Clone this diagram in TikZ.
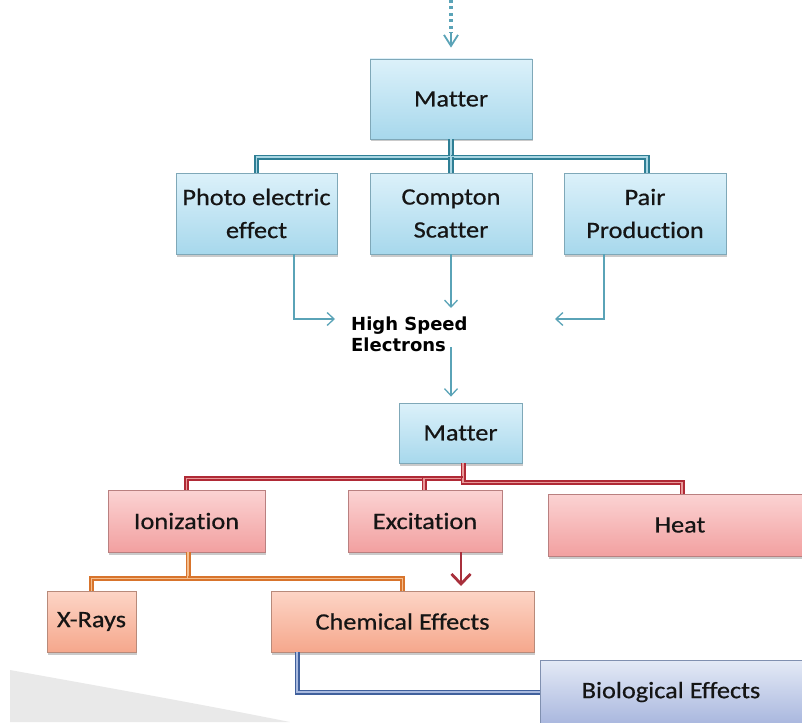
\documentclass[tikz,border=0pt]{standalone}
\usepackage{fontspec}
\newfontfamily\boxfont[FakeStretch=1.12,FakeBold=0.6,RawFeature={-liga}]{Carlito}
\newfontfamily\hsfont{DejaVu Sans}
\usetikzlibrary{arrows.meta,shadows,calc}
\definecolor{tealout}{HTML}{2F7F95}
\definecolor{tealin}{HTML}{A9D6E3}
\definecolor{tealarr}{HTML}{5AA3B7}
\definecolor{redout}{HTML}{B02A36}
\definecolor{redin}{HTML}{E89A9A}
\definecolor{redarr}{HTML}{A8303C}
\definecolor{orout}{HTML}{D8742C}
\definecolor{orin}{HTML}{F4BE8E}
\definecolor{blout}{HTML}{40609C}
\definecolor{blin}{HTML}{A9BADF}
\definecolor{txt}{HTML}{151515}
\definecolor{graybg}{HTML}{E9E9E9}
\definecolor{bluetop}{HTML}{DCF1FA}
\definecolor{bluebot}{HTML}{A7D8EC}
\definecolor{pinktop}{HTML}{FBD3D3}
\definecolor{pinkbot}{HTML}{F2A0A0}
\definecolor{saltop}{HTML}{FDD5C6}
\definecolor{salbot}{HTML}{F5A78C}
\definecolor{lavtop}{HTML}{E4EAF6}
\definecolor{lavbot}{HTML}{A9B7DE}
\definecolor{bluedraw}{HTML}{7FA8B8}
\definecolor{pinkdraw}{HTML}{B98080}
\definecolor{saldraw}{HTML}{B88A7A}
\definecolor{lavdraw}{HTML}{8090B0}
\tikzset{
  basebox/.style={draw, line width=0.8pt, inner sep=0pt, align=center, text=txt,
    font=\boxfont\fontsize{23.5}{33}\selectfont,
    drop shadow={shadow xshift=1pt, shadow yshift=-2.5pt, opacity=.35, fill=black!60}},
  bluebox/.style={basebox, draw=bluedraw, top color=bluetop, bottom color=bluebot},
  pinkbox/.style={basebox, draw=pinkdraw, top color=pinktop, bottom color=pinkbot},
  salbox/.style={basebox, draw=saldraw, top color=saltop, bottom color=salbot},
  lavbox/.style={basebox, draw=lavdraw, top color=lavtop, bottom color=lavbot},
  tealdbl/.style={draw=tealout, double=tealin, line width=1.7pt, double distance=1.8pt},
  reddbl/.style={draw=redout, double=redin, line width=1.7pt, double distance=1.6pt},
  ordbl/.style={draw=orout, double=orin, line width=1.7pt, double distance=1.6pt},
  bldbl/.style={draw=blout, double=blin, line width=1.7pt, double distance=1.6pt},
  tarr/.style={draw=tealarr, line width=1.3pt, -{Straight Barb[length=7pt,width=13pt]}},
  rarr/.style={draw=redarr, line width=2.8pt, -{Straight Barb[length=10pt,width=19pt]}},
  dotline/.style={draw=tealarr, line width=3.2pt, dash pattern=on 3pt off 3.5pt},
  chevron/.style={draw=tealarr, line width=1.8pt, -{Straight Barb[length=11pt,width=14pt]}},
}
\begin{document}
\begin{tikzpicture}[x=1pt,y=-1pt]
\useasboundingbox (0,0) rectangle (802,722);
\fill[graybg] (10,670) .. controls (110,688) and (200,704) .. (290,722) -- (10,722) -- cycle;

% nodes
\node[bluebox, minimum width=162pt, minimum height=80pt] (m1) at (451,99) {Matter};
\node[bluebox, minimum width=161pt, minimum height=81pt] (pe) at (256.5,213.5) {Photo electric\\effect};
\node[bluebox, minimum width=162pt, minimum height=81pt] (cs) at (451,213.5) {Compton\\Scatter};
\node[bluebox, minimum width=162pt, minimum height=81pt] (pp) at (645,213.5) {Pair\\Production};
\node[anchor=north west, inner sep=0pt, align=left, text=black,
      font=\hsfont\bfseries\fontsize{18}{21}\selectfont] (hse) at (351,317) {High Speed\\Electrons};
\node[bluebox, minimum width=123pt, minimum height=60pt] (m2) at (460.5,433) {Matter};
\node[pinkbox, minimum width=157pt, minimum height=62pt] (io) at (186.5,521) {Ionization};
\node[pinkbox, minimum width=154pt, minimum height=62pt] (ex) at (425,521) {Excitation};
\node[pinkbox, minimum width=264pt, minimum height=62pt] (ht) at (680,525) {Heat};
\node[salbox, minimum width=89pt, minimum height=61pt] (xr) at (91.5,621.5) {X-Rays};
\node[salbox, minimum width=263pt, minimum height=61pt] (ch) at (402.5,621.5) {Chemical Effects};
\node[lavbox, minimum width=262pt, minimum height=64pt] (bio) at (671,692) {Biological Effects};

% coordinates for free ends
\coordinate (topin) at (451,0);
\coordinate (dotend) at (451,33);
\coordinate (hl) at (335,319);
\coordinate (hr) at (555,319);
\coordinate (hc) at (451,308);
\coordinate (hb) at (451,347);
\coordinate (rt) at (461,586);

% connectors
\draw[dotline] (topin) -- (dotend);
\draw[chevron, shorten >=11pt] (dotend) -- (m1.north);
\draw[tealdbl] (m1.south) -- ++(0,18) coordinate (j1) -| (pe.north);
\draw[tealdbl] (j1) -| ([xshift=2pt]pp.north);
\draw[tealdbl] (j1) -- (cs.north);

\draw[tarr] ([xshift=37.5pt]pe.south) |- (hl);
\draw[tarr] (cs.south) -- (hc);
\draw[tarr] ([xshift=-41pt]pp.south) |- (hr);
\draw[tarr, shorten >=6pt] (hb) -- (hb |- m2.north);

\draw[reddbl] ([xshift=2.5pt]m2.south) -- ++(0,15) coordinate (j2) -| (io.north);
\draw[reddbl] (j2) -| ([xshift=-1pt]ex.north);
\draw[reddbl] (j2) -- ++(0,4) -| ([xshift=2pt]ht.north);

\draw[rarr] ([xshift=36pt]ex.south) -- (rt);

\draw[ordbl] ([xshift=1.5pt]io.south) -- ++(0,26) coordinate (j3) -| (xr.north);
\draw[ordbl] (j3) -| (ch.north);

\draw[bldbl] ([xshift=-105.5pt]ch.south) |- (bio.west);
\end{tikzpicture}
\end{document}
